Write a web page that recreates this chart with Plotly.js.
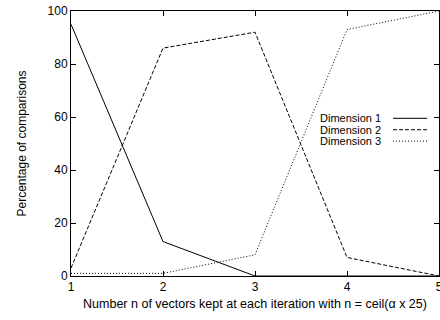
<!DOCTYPE html>
<html>
<head>
<meta charset="utf-8">
<script src="https://cdn.plot.ly/plotly-3.0.1.min.js"></script>
<style>html,body{margin:0;padding:0;background:#fff;}#chart{width:440px;height:320px;}</style>
</head>
<body>
<div id="chart"></div>
<script>
const xVals = [1, 2, 3, 4, 5];
const seriesNames = ["Dimension 1", "Dimension 2", "Dimension 3"];
const dim1 = [95, 13, 0, 0, 0];
const dim2 = [3, 86, 92, 7, 0];
const dim3 = [1, 1, 8, 93, 100];
const dashes = ["solid", "4px,2px", "1px,2px"];

const allY = [dim1, dim2, dim3];
const traces = allY.map((y, i) => ({
  x: xVals, y: y, type: "scatter", mode: "lines", name: seriesNames[i],
  line: {color: "#000", width: 1, dash: dashes[i]}, showlegend: false, cliponaxis: false
}));

const font = {family: "Liberation Sans, Arial, sans-serif", color: "#000"};
const rowY = [0.595, 0.552, 0.509];
const annotations = seriesNames.map((n, i) => ({
  xref: "paper", yref: "paper", x: 0.847, y: rowY[i],
  xanchor: "right", yanchor: "middle", text: n, showarrow: false,
  font: Object.assign({size: 11}, font)
}));
const shapes = seriesNames.map((n, i) => ({
  type: "line", xref: "paper", yref: "paper",
  x0: 0.875, x1: 0.968, y0: rowY[i], y1: rowY[i],
  line: {color: "#000", width: 1, dash: dashes[i]}
}));

const layout = {
  width: 440, height: 320,
  margin: {l: 71, r: 1, t: 11, b: 44},
  paper_bgcolor: "#fff", plot_bgcolor: "#fff",
  font: font,
  xaxis: {
    range: [1, 5], tickvals: xVals, ticks: "inside", ticklen: 5, tickcolor: "#000",
    showline: true, linecolor: "#000", linewidth: 1, mirror: "ticks",
    ticklabeloverflow: "allow",
    showgrid: false, zeroline: false, tickfont: Object.assign({size: 12}, font),
    title: {text: "Number n of vectors kept at each iteration with n = ceil(α x 25)", font: Object.assign({size: 12.5}, font), standoff: 5}
  },
  yaxis: {
    range: [0, 100], dtick: 20, ticks: "inside", ticklen: 5, tickcolor: "#000",
    showline: true, linecolor: "#000", linewidth: 1, mirror: "ticks",
    showgrid: false, zeroline: false, tickfont: Object.assign({size: 12}, font),
    title: {text: "Percentage of comparisons", font: Object.assign({size: 12}, font), standoff: 18}
  },
  annotations: annotations,
  shapes: shapes
};
Plotly.newPlot("chart", traces, layout, {displayModeBar: false, staticPlot: true});
</script>
</body>
</html>
